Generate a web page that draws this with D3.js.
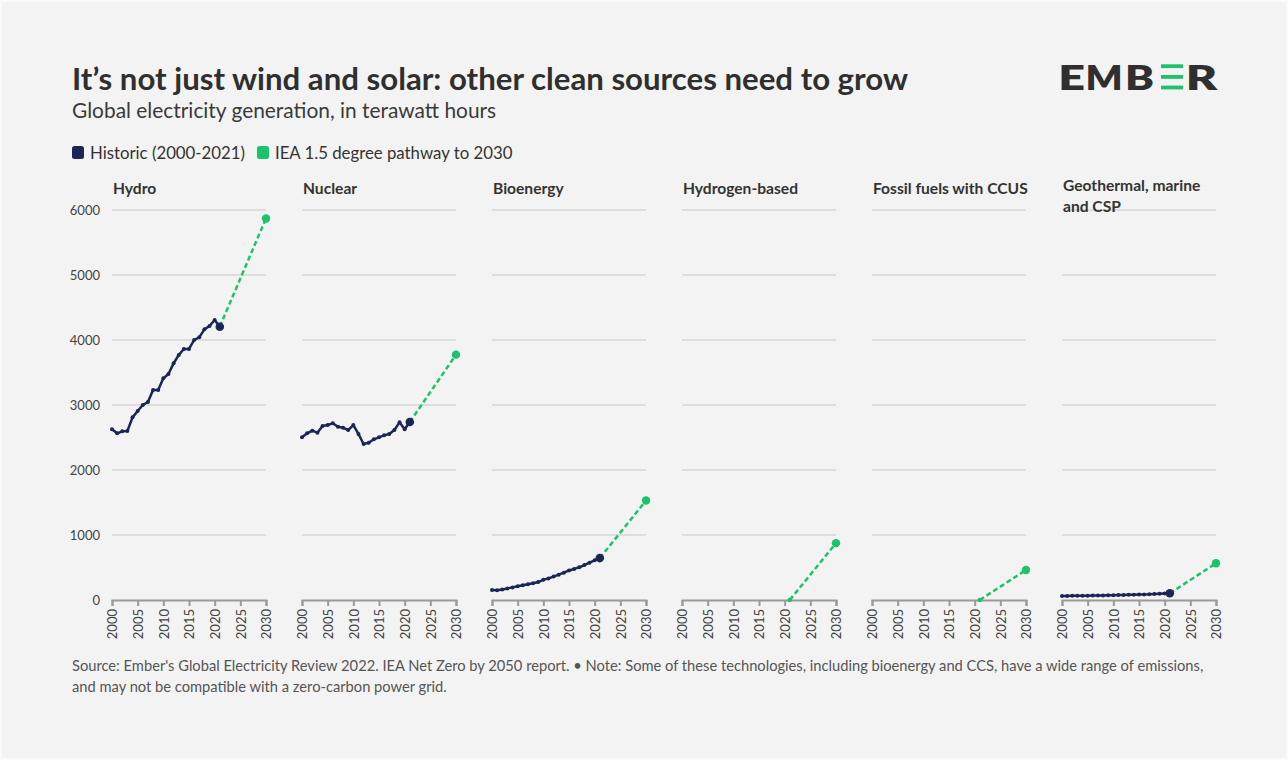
<!DOCTYPE html>
<html>
<head>
<meta charset="utf-8">
<script src="https://cdn.jsdelivr.net/npm/d3@7/dist/d3.min.js"></script>
<style>
  html, body { margin: 0; padding: 0; background: #ffffff; }
  svg { display: block; }
  text { font-family: "Lato", "Noto Sans", sans-serif; }
</style>
</head>
<body>
<svg id="chart" width="1288" height="760"></svg>
<script>
// Historic generation years (TWh series below follow this order)
const historicYears = [2000, 2001, 2002, 2003, 2004, 2005, 2006, 2007, 2008, 2009, 2010,
                       2011, 2012, 2013, 2014, 2015, 2016, 2017, 2018, 2019, 2020, 2021];
const pathwayYears = [2021, 2030];

const categories = ["Hydro", "Nuclear", "Bioenergy", "Hydrogen-based",
                    "Fossil fuels with CCUS", "Geothermal, marine and CSP"];

// Historic generation, TWh (null = no historic generation)
const hydro = [2626, 2564, 2595, 2600, 2810, 2908, 3000, 3046, 3230, 3230, 3410,
               3477, 3641, 3769, 3862, 3862, 4000, 4041, 4164, 4215, 4308, 4205];
const nuclear = [2503, 2564, 2605, 2574, 2677, 2692, 2718, 2666, 2651, 2615, 2692,
                 2554, 2400, 2420, 2472, 2503, 2533, 2554, 2615, 2733, 2626, 2738];
const bioenergy = [154, 150, 163, 178, 194, 210, 226, 242, 258, 276, 310,
                   332, 360, 390, 420, 455, 478, 503, 538, 575, 610, 645];
const hydrogen = null;
const ccus = null;
const geothermal = [62, 63, 64, 65, 66, 67, 68, 69, 71, 72, 74,
                    76, 78, 80, 82, 84, 86, 88, 92, 96, 99, 103];

// IEA 1.5 degree pathway value for 2030, TWh
const pathway2030 = [5870, 3775, 1530, 875, 462, 565];

const historicSeries = [hydro, nuclear, bioenergy, hydrogen, ccus, geothermal];

const yTicks = [0, 1000, 2000, 3000, 4000, 5000, 6000];
const xTicks = [2000, 2005, 2010, 2015, 2020, 2025, 2030];

const legendItems = ["Historic (2000-2021)", "IEA 1.5 degree pathway to 2030"];

const navy = "#1c2654";
const green = "#1cc36b";

const svg = d3.select("#chart");

// page background with a thin lighter edge
svg.append("rect").attr("width", 1288).attr("height", 760).attr("fill", "#fafafa");
svg.append("rect").attr("x", 2).attr("y", 2).attr("width", 1284).attr("height", 756).attr("fill", "#f3f3f3");

// Title block
svg.append("text").attr("x", 72).attr("y", 90)
  .attr("font-size", 31.2).attr("font-weight", 700).attr("fill", "#2f2f2f")
  .text("It’s not just wind and solar: other clean sources need to grow");
svg.append("text").attr("x", 72).attr("y", 118)
  .attr("font-size", 20.9).attr("fill", "#3a3a3a")
  .text("Global electricity generation, in terawatt hours");

// Logo: letters with a green three-bar "E"
const logo = svg.append("g").attr("fill", "#2f2f2f");
const logoLetters = [["E", 1060, 23], ["M", 1088, 32], ["B", 1127, 25], ["R", 1188, 27.5]];
logoLetters.forEach(([ch, left, w]) => {
  const t = logo.append("text").attr("x", 0).attr("y", 0)
    .attr("font-family", "Inter, Lato, sans-serif")
    .attr("font-size", 34.5).attr("font-weight", 800).text(ch);
  const bb = t.node().getBBox();
  // stretch each glyph to the logo's letter width, baseline at 89.5
  const sx = w / (bb.width * 0.86);
  const inkLeft = bb.x + bb.width * 0.07;
  t.attr("transform", `translate(${left - inkLeft * sx},89.5) scale(${sx},1)`);
});
[64.3, 75, 85.6].forEach(y => {
  svg.append("rect").attr("x", 1161).attr("y", y).attr("width", 22).attr("height", 3.8).attr("fill", green);
});

// Legend
const legend = svg.append("g").attr("transform", "translate(72,146)");
let lx = 0;
legendItems.forEach((label, i) => {
  const g = legend.append("g").attr("transform", `translate(${lx},0)`);
  g.append("rect").attr("width", 12).attr("height", 13).attr("rx", 2.5)
    .attr("fill", i === 0 ? navy : green);
  const t = g.append("text").attr("x", 18).attr("y", 12.5)
    .attr("font-size", 16.8).attr("fill", "#333").text(label);
  lx += 18 + t.node().getComputedTextLength() + 12;
});

// Scales shared by all panels
const panelLeft = 112, panelStep = 190, panelWidth = 154;
const x = d3.scaleLinear().domain([2000, 2030]).range([0, panelWidth]);
const y = d3.scaleLinear().domain([0, 6000]).range([600, 210]);

const line = d3.line().x(d => x(d[0])).y(d => y(d[1]));

categories.forEach((name, i) => {
  const g = svg.append("g").attr("transform", `translate(${panelLeft + i * panelStep},0)`);

  // gridlines
  g.selectAll("line.grid").data(yTicks.filter(v => v > 0)).join("line")
    .attr("class", "grid")
    .attr("x1", 0).attr("x2", panelWidth)
    .attr("y1", d => y(d)).attr("y2", d => y(d))
    .attr("stroke", "#d6d6d6").attr("stroke-width", 1.5);

  // panel title
  if (name === "Geothermal, marine and CSP") {
    const t = g.append("text").attr("x", 1).attr("y", 191)
      .attr("font-size", 15.6).attr("font-weight", 700).attr("fill", "#333");
    t.append("tspan").attr("x", 1).text("Geothermal, marine");
    t.append("tspan").attr("x", 1).attr("dy", 21).text("and CSP");
  } else {
    g.append("text").attr("x", 1).attr("y", 194)
      .attr("font-size", 15.6).attr("font-weight", 700).attr("fill", "#333").text(name);
  }

  // x axis at zero
  const ax = g.append("g").attr("transform", `translate(0,${y(0)})`)
    .call(d3.axisBottom(x).tickValues(xTicks).tickFormat(d3.format("d")).tickSize(6));
  ax.select(".domain").attr("stroke", "#9a9a9a").attr("stroke-width", 2);
  ax.selectAll(".tick line").attr("stroke", "#9a9a9a").attr("stroke-width", 2);
  ax.selectAll("text")
    .attr("font-family", "Lato, sans-serif").attr("font-size", 13).attr("fill", "#444")
    .attr("transform", "rotate(-90)")
    .attr("x", -9).attr("y", 0).attr("dy", "0.36em")
    .style("text-anchor", "end");

  // y axis labels on the first panel
  if (i === 0) {
    g.selectAll("text.ylab").data(yTicks).join("text")
      .attr("class", "ylab")
      .attr("x", -12).attr("y", d => y(d)).attr("dy", "0.35em")
      .attr("text-anchor", "end").attr("font-size", 13).attr("fill", "#444")
      .text(d => d);
  }

  const hist = historicSeries[i];
  const startVal = hist ? hist[hist.length - 1] : 0;
  const path = [[pathwayYears[0], startVal], [pathwayYears[1], pathway2030[i]]];

  // pathway (dashed)
  g.append("path").attr("d", line(path))
    .attr("fill", "none").attr("stroke", green).attr("stroke-width", 2.5)
    .attr("stroke-dasharray", "5,3");
  if (!hist) {
    g.append("circle").attr("cx", x(path[0][0])).attr("cy", y(path[0][1]))
      .attr("r", 2.3).attr("fill", green);
  }
  g.append("circle").attr("cx", x(path[1][0])).attr("cy", y(path[1][1]))
    .attr("r", 4.2).attr("fill", green);

  // historic (solid)
  if (hist) {
    const pts = historicYears.map((yr, k) => [yr, hist[k]]);
    g.append("path").attr("d", line(pts))
      .attr("fill", "none").attr("stroke", navy).attr("stroke-width", 2.5)
      .attr("stroke-linejoin", "round");
    g.selectAll("circle.h").data(pts.slice(0, -1)).join("circle")
      .attr("class", "h").attr("cx", d => x(d[0])).attr("cy", d => y(d[1]))
      .attr("r", 2).attr("fill", navy);
    const last = pts[pts.length - 1];
    g.append("circle").attr("cx", x(last[0])).attr("cy", y(last[1]))
      .attr("r", 4.3).attr("fill", navy);
  }
});

// Footer
const foot = svg.append("text").attr("x", 72).attr("y", 671)
  .attr("font-size", 14.7).attr("fill", "#555");
foot.append("tspan").attr("x", 72)
  .text("Source: Ember's Global Electricity Review 2022. IEA Net Zero by 2050 report. • Note: Some of these technologies, including bioenergy and CCS, have a wide range of emissions,");
foot.append("tspan").attr("x", 72).attr("dy", 21)
  .text("and may not be compatible with a zero-carbon power grid.");
</script>
</body>
</html>
